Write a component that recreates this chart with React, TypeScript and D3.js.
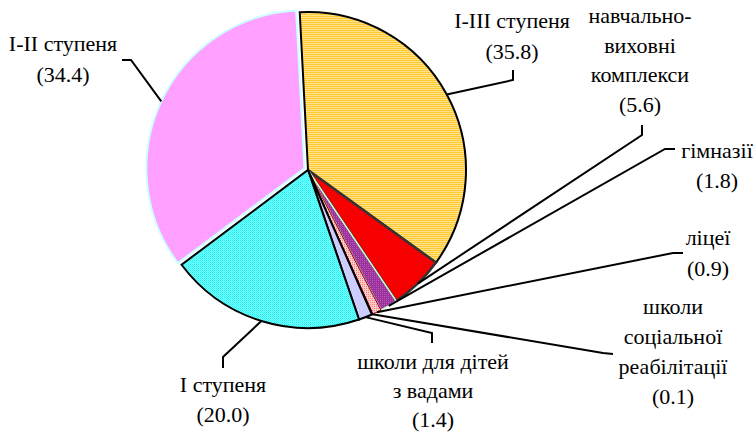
import React from "react";
import * as d3 from "d3";

const categories = [
  "I-III ступеня",
  "навчально-виховні комплекси",
  "гімназії",
  "ліцеї",
  "школи соціальної реабілітації",
  "школи для дітей з вадами",
  "I ступеня",
  "I-II ступеня",
];
const values = [35.8, 5.6, 1.8, 0.9, 0.1, 1.4, 20.0, 34.4];
const labelLines = [
  ["I-III ступеня"],
  ["навчально-", "виховні", "комплекси"],
  ["гімназії"],
  ["ліцеї"],
  ["школи", "соціальної", "реабілітації"],
  ["школи для дітей", "з вадами"],
  ["I ступеня"],
  ["I-II ступеня"],
];

// layout (not data)
const W = 754, H = 434;
const CX = 308, CY = 170, R = 158;
const START = (-3 * Math.PI) / 180;
const FONT = "Liberation Serif";
const fills = ["url(#pYellow)", "url(#pRed)", "url(#pPurple)", "url(#pLyc)", "#990033", "#CCCCFF", "url(#pCyan)", "url(#pPink)"];
const strokes = ["#000", "#333", "#CCFFCC", "#880000", "#660000", "#000", "#000", "#CCFFFF"];
const strokeW = [2, 2.5, 1.5, 1, 1, 2, 2, 2];
const explode = [0, 0, 0, 0, 0, 0, 0, 4];
const labelPos = [
  { x: 512, y: 28, dy: 31, pts: [[513, 80], [513, 70]] },
  { x: 640, y: 23, dy: 29.7, pts: [[642, 135], [642, 125]] },
  { x: 717, y: 158, dy: 30, pts: [[665, 149], [675, 149]] },
  { x: 708, y: 245, dy: 31, pts: [[673, 253], [683, 253]] },
  { x: 673, y: 314, dy: 30, pts: [[603, 353], [613, 354]] },
  { x: 433, y: 369, dy: 29, pts: [[432, 333], [432, 343]] },
  { x: 223, y: 392, dy: 30, pts: [[223, 357], [223, 368]] },
  { x: 63, y: 51, dy: 31, pts: [[131, 60], [122, 60]] },
];

export default function App() {
  const pie = d3
    .pie<number>()
    .sort(null)
    .value((d) => d)
    .startAngle(START)
    .endAngle(START + 2 * Math.PI);
  const arcs = pie(values);
  const arc = d3.arc<d3.PieArcDatum<number>>().innerRadius(0).outerRadius(R);
  const fmt = d3.format(".1f");
  const line = d3.line();

  return (
    <svg width={W} height={H} style={{ position: "absolute", left: 0, top: 0, background: "#fff" }}>
      <defs>
        <pattern id="pYellow" width="4" height="2" patternUnits="userSpaceOnUse">
          <rect width="4" height="2" fill="#FFE38A" />
          <rect width="4" height="1" fill="#FFC933" />
        </pattern>
        <pattern id="pPink" width="2" height="2" patternUnits="userSpaceOnUse">
          <rect width="2" height="2" fill="#FFB3FF" />
          <rect width="1" height="1" fill="#FF80FF" />
          <rect x="1" y="1" width="1" height="1" fill="#FF99FF" />
        </pattern>
        <pattern id="pCyan" width="2" height="2" patternUnits="userSpaceOnUse">
          <rect width="2" height="2" fill="#80FFFF" />
          <rect width="1" height="1" fill="#22F0F0" />
          <rect x="1" y="1" width="1" height="1" fill="#33FFFF" />
        </pattern>
        <pattern id="pRed" width="2" height="2" patternUnits="userSpaceOnUse">
          <rect width="2" height="2" fill="#FF0000" />
          <rect width="1" height="1" fill="#E00000" />
        </pattern>
        <pattern id="pPurple" width="2" height="2" patternUnits="userSpaceOnUse">
          <rect width="2" height="2" fill="#993399" />
          <rect width="1" height="1" fill="#BB55BB" />
        </pattern>
        <pattern id="pLyc" width="2" height="2" patternUnits="userSpaceOnUse">
          <rect width="2" height="2" fill="#FFCCCC" />
          <rect width="1" height="1" fill="#FF7777" />
        </pattern>
      </defs>
      {arcs.map((a, i) => {
        const mid = (a.startAngle + a.endAngle) / 2;
        const ox = Math.sin(mid) * explode[i];
        const oy = -Math.cos(mid) * explode[i];
        return (
          <path
            key={categories[i]}
            d={arc(a) || ""}
            transform={`translate(${CX + ox},${CY + oy})`}
            fill={fills[i]}
            stroke={strokes[i]}
            strokeWidth={strokeW[i]}
            strokeLinejoin="miter"
          />
        );
      })}
      {arcs.map((a, i) => {
        const mid = (a.startAngle + a.endAngle) / 2;
        const rr = R + explode[i];
        const p0: [number, number] = [CX + Math.sin(mid) * rr, CY - Math.cos(mid) * rr];
        const pts = [p0, ...(labelPos[i].pts as [number, number][])];
        return (
          <path key={"l" + i} d={line(pts) || ""} fill="none" stroke="#000" strokeWidth={2} />
        );
      })}
      {labelLines.map((ls, i) => {
        const lp = labelPos[i];
        const all = [...ls, `(${fmt(values[i])})`];
        return all.map((t, j) => (
          <text
            key={"t" + i + "-" + j}
            x={lp.x}
            y={lp.y + j * lp.dy}
            textAnchor="middle"
            fontFamily={FONT}
            fontSize={22}
            fill="#000"
          >
            {t}
          </text>
        ));
      })}
    </svg>
  );
}
